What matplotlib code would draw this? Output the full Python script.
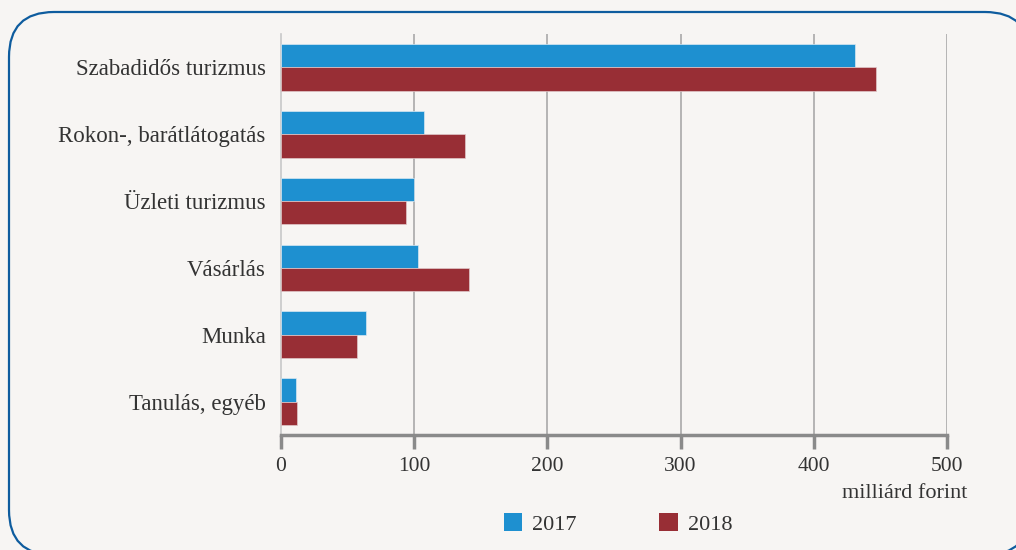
import matplotlib
matplotlib.use("Agg")
import matplotlib.pyplot as plt
from matplotlib.patches import FancyBboxPatch, Patch
import numpy as np

categories = ["Szabadidős turizmus", "Rokon-, barátlátogatás", "Üzleti turizmus",
              "Vásárlás", "Munka", "Tanulás, egyéb"]
values_2017 = [431, 107, 100, 103, 64, 11]
values_2018 = [447, 138, 94, 141, 57, 12]
series_labels = ["2017", "2018"]
xticks = [0, 100, 200, 300, 400, 500]
xlabel = "milliárd forint"

BG = "#f7f5f3"
BLUE = "#1e90d0"
RED = "#982e35"
TXT = "#333333"
GRID = "#a9a9a9"

plt.rcParams['font.family'] = ['Liberation Serif', 'DejaVu Serif']

W, H = 1016, 550
fig = plt.figure(figsize=(W / 100, H / 100), dpi=100, facecolor=BG)

# background frame axes in pixel coordinates
bg = fig.add_axes([0, 0, 1, 1], zorder=0)
bg.set_xlim(0, W)
bg.set_ylim(H, 0)
bg.axis("off")
bg.add_patch(FancyBboxPatch((9, 12), 1021, 543,
                            boxstyle="round,pad=0,rounding_size=45",
                            facecolor=BG, edgecolor="#0e5c9e", linewidth=1.6))

ax = fig.add_axes([281 / W, 1 - 435 / H, (947 - 281) / W, (435 - 34) / H], zorder=1)
ax.set_facecolor("none")

y = np.arange(len(categories))
h = 0.35
ax.barh(y - h / 2, values_2017, height=h, color=BLUE, edgecolor="#d8e8f2",
        linewidth=0.5, zorder=3)
ax.barh(y + h / 2, values_2018, height=h, color=RED, edgecolor="#e0c8ca",
        linewidth=0.5, zorder=3)

ax.set_ylim(len(categories) - 0.5, -0.5)
ax.set_xlim(0, 500)
ax.set_yticks(y)
ax.set_yticklabels(categories, fontsize=16.5, color=TXT)
ax.tick_params(axis="y", length=0, pad=11)
ax.set_xticks(xticks)
ax.set_xticklabels([str(t) for t in xticks], fontsize=15.5, color=TXT)
ax.tick_params(axis="x", length=10, width=2.5, color="#8a8a8a", pad=6)

for s in ["top", "right"]:
    ax.spines[s].set_visible(False)
ax.spines["left"].set_color("#c8c8c8")
ax.spines["left"].set_linewidth(1.2)
ax.spines["bottom"].set_color("#8a8a8a")
ax.spines["bottom"].set_linewidth(2.5)

for t in xticks[1:]:
    ax.axvline(t, color=GRID, linewidth=1.2, zorder=1)

fig.text(967 / W, 1 - 494 / H, xlabel, ha="right", va="center", fontsize=16, color=TXT)

handles = [Patch(facecolor=BLUE, edgecolor="none"), Patch(facecolor=RED, edgecolor="none")]
fig.legend(handles, series_labels, loc="center", bbox_to_anchor=(618 / W, 1 - 524 / H),
           ncol=2, frameon=False, fontsize=16, handlelength=0.85, handleheight=0.85,
           handletextpad=0.45, columnspacing=3.7, labelcolor=TXT)

fig.savefig("out.png", dpi=100, facecolor=BG)
